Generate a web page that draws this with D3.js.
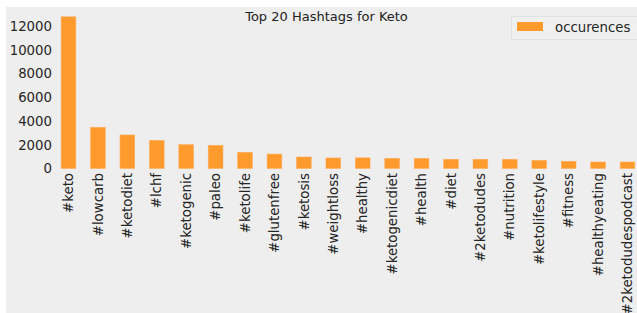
<!DOCTYPE html>
<html><head><meta charset="utf-8">
<script src="https://cdn.jsdelivr.net/npm/d3@7"></script>
<style>body{margin:0;background:#fff}svg{display:block}text{font-family:"DejaVu Sans",sans-serif}</style>
</head><body><svg id="c" width="637" height="313"></svg>
<script>
const categories = ["#keto","#lowcarb","#ketodiet","#lchf","#ketogenic","#paleo","#ketolife","#glutenfree","#ketosis","#weightloss","#healthy","#ketogenicdiet","#health","#diet","#2ketodudes","#nutrition","#ketolifestyle","#fitness","#healthyeating","#2ketodudespodcast"];
const occurences = [12800,3480,2830,2380,2010,1960,1370,1220,970,890,900,860,860,780,780,780,690,610,550,550];
const yTicks = [0,2000,4000,6000,8000,10000,12000];
const title = "Top 20 Hashtags for Keto";
const seriesName = "occurences";

const svg = d3.select("#c");
const color = "#ff9a2c";
svg.append("rect").attr("x",6).attr("y",7).attr("width",631).attr("height",306).attr("fill","#eeeeee");

const x = d3.scaleBand().domain(categories).range([53.8,642.2]).paddingInner(0.5).paddingOuter(0.25);
const y = d3.scaleLinear().domain([0,12000]).range([168.5,26.3]);

svg.append("g").selectAll("rect").data(occurences).join("rect")
  .attr("x",(d,i)=>x(categories[i])).attr("width",x.bandwidth())
  .attr("y",d=>y(d)).attr("height",d=>y(0)-y(d)).attr("fill",color)
  .attr("stroke","#ffb060").attr("stroke-width",0.6);

const yAxis = svg.append("g").attr("transform","translate(52,0)")
  .call(d3.axisLeft(y).tickValues(yTicks).tickSize(0).tickPadding(0).tickFormat(d3.format("d")));
yAxis.select(".domain").remove();
yAxis.selectAll("text").attr("font-size",13.3).attr("fill","#262626").attr("font-family","DejaVu Sans");

const xAxis = svg.append("g").attr("transform","translate(0,172)")
  .call(d3.axisBottom(x).tickSize(0).tickPadding(0));
xAxis.select(".domain").remove();
xAxis.selectAll("text").attr("font-size",13.3).attr("fill","#262626").attr("font-family","DejaVu Sans")
  .attr("text-anchor","end").attr("dy","0.35em").attr("transform","rotate(-90)").attr("x",-1).attr("y",0);

svg.append("text").attr("x",326.5).attr("y",21).attr("text-anchor","middle").attr("font-size",13).attr("fill","#222").text(title);

const lg = svg.append("g");
lg.append("rect").attr("x",511.5).attr("y",16.5).attr("width",130).attr("height",23).attr("rx",2)
  .attr("fill","#f0f0f0").attr("stroke","#e2e2e2");
lg.append("rect").attr("x",517).attr("y",22).attr("width",26).attr("height",9).attr("fill",color);
lg.append("text").attr("x",555).attr("y",27.5).attr("dy","0.35em").attr("font-size",13.3).attr("fill","#262626").text(seriesName);
</script></body></html>
